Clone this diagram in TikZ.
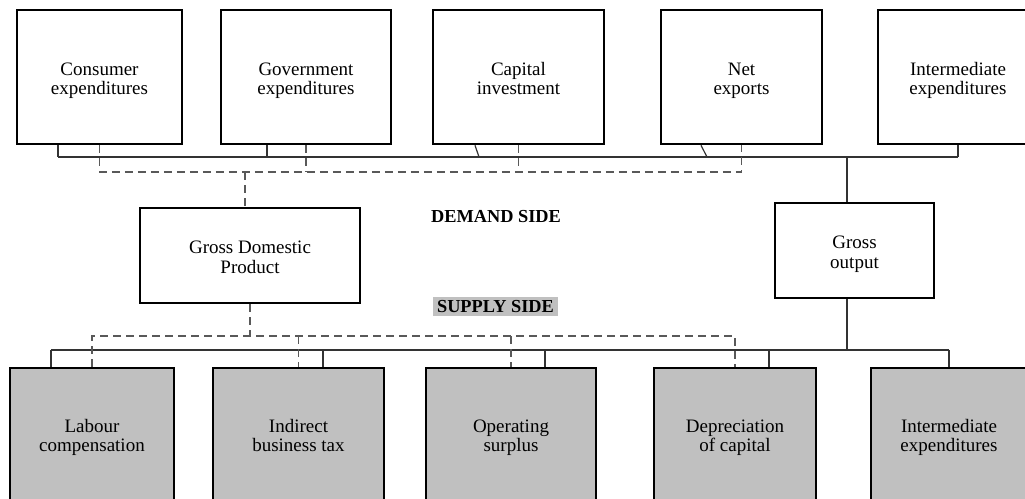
\documentclass[tikz,border=0pt]{standalone}
\usepackage{fontspec}
\setmainfont{Liberation Serif}
\newcommand{\twoline}[2]{#1\strut\\#2\strut}
\newcommand{\twolinelow}[2]{#1\rule{0pt}{\dimexpr0.7\baselineskip+8pt\relax}\\#2\strut}
\begin{document}
\begin{tikzpicture}[x=1pt,y=-1pt,
  box/.style={draw=black,line width=2.6pt,align=center,inner sep=0pt,
    font=\fontsize{19}{19.5}\selectfont},
  topbox/.style={box,minimum height=134pt},
  midbox/.style={box,minimum height=95pt},
  botbox/.style={box,fill=boxgray,minimum height=140pt},
  bus/.style={draw=black!80,line width=1.2pt},
  dbus/.style={draw=black!65,line width=1.1pt,dash pattern=on 8pt off 5pt},
  lbl/.style={font=\fontsize{18.3}{20}\selectfont\bfseries,inner sep=1pt}]
\definecolor{boxgray}{RGB}{192,192,192}
\useasboundingbox (0,0) rectangle (1025,498);
% top boxes
\node[topbox,minimum width=165pt] (c1) at (99.5,77) {\twolinelow{Consumer}{expenditures}};
\node[topbox,minimum width=170pt] (c2) at (306,77) {\twolinelow{Government}{expenditures}};
\node[topbox,minimum width=171pt] (c3) at (518.5,77) {\twolinelow{Capital}{investment}};
\node[topbox,minimum width=161pt] (c4) at (741.5,77) {\twolinelow{Net}{exports}};
\node[topbox,minimum width=160pt] (c5) at (958,77) {\twolinelow{Intermediate}{expenditures}};
% middle boxes
\node[midbox,minimum width=220pt] (gdp) at (250,255.5) {\twolinelow{Gross Domestic}{Product}};
\node[midbox,minimum width=159pt] (go) at (854.5,250.5) {\twolinelow{Gross}{output}};
% labels
\node[lbl] (dem) at (496,217) {DEMAND SIDE};
\node[lbl,fill=boxgray,minimum width=125pt,minimum height=19pt] (sup) at (495.5,306.5) {SUPPLY SIDE};
% bottom boxes
\node[botbox,minimum width=164pt] (s1) at (92,438) {\twoline{Labour}{compensation}};
\node[botbox,minimum width=171pt] (s2) at (298.5,438) {\twoline{Indirect}{business tax}};
\node[botbox,minimum width=170pt] (s3) at (511,438) {\twoline{Operating}{surplus}};
\node[botbox,minimum width=162pt] (s4) at (735,438) {\twoline{Depreciation}{of capital}};
\node[botbox,minimum width=156pt] (s5) at (949,438) {\twoline{Intermediate}{expenditures}};
% top solid bus junctions
\coordinate (t1) at (58,157);
\coordinate (t2) at (267,157);
\coordinate (t3) at (479,157);
\coordinate (t4) at (707,157);
\coordinate (t5) at (958,157);
\coordinate (tgo) at (847,157);
\draw[bus] (t1) -- (t5);
\draw[bus] (c1.south -| t1) -- (t1);
\draw[bus] ([xshift=-39pt]c2.south) -- (t2);
\draw[bus] ([xshift=-43.5pt]c3.south) -- (t3);
\draw[bus] ([xshift=-40.5pt]c4.south) -- (t4);
\draw[bus] (c5.south) -- (t5);
\draw[bus] (tgo) -- (go.north -| tgo);
% top dashed bus
\coordinate (d1) at (99.5,172);
\coordinate (d4) at (741.5,172);
\coordinate (dg) at (245,172);
\draw[dbus] (c1.south) -- (d1) -- (d4) -- (c4.south);
\draw[dbus] (c2.south) -- (c2.south |- d1);
\draw[dbus] (c3.south) -- (c3.south |- d1);
\draw[dbus] (dg) -- (gdp.north -| dg);
% bottom solid bus
\coordinate (b1) at (51,350);
\coordinate (b2) at (323,350);
\coordinate (b3) at (545,350);
\coordinate (b4) at (769,350);
\coordinate (b5) at (949,350);
\coordinate (bgo) at (847,350);
\draw[bus] (b1) -- (b5);
\draw[bus] (go.south -| bgo) -- (bgo);
\draw[bus] (b1) -- (s1.north -| b1);
\draw[bus] (b2) -- (s2.north -| b2);
\draw[bus] (b3) -- (s3.north -| b3);
\draw[bus] (b4) -- (s4.north -| b4);
\draw[bus] (b5) -- (s5.north);
% bottom dashed bus
\coordinate (e1) at (92,336);
\coordinate (e4) at (735,336);
\coordinate (eg) at (250,336);
\draw[dbus] (s1.north) -- (e1) -- (e4) -- (s4.north);
\draw[dbus] (s2.north |- e1) -- (s2.north);
\draw[dbus] (s3.north |- e1) -- (s3.north);
\draw[dbus] (gdp.south -| eg) -- (eg);
\end{tikzpicture}
\end{document}
